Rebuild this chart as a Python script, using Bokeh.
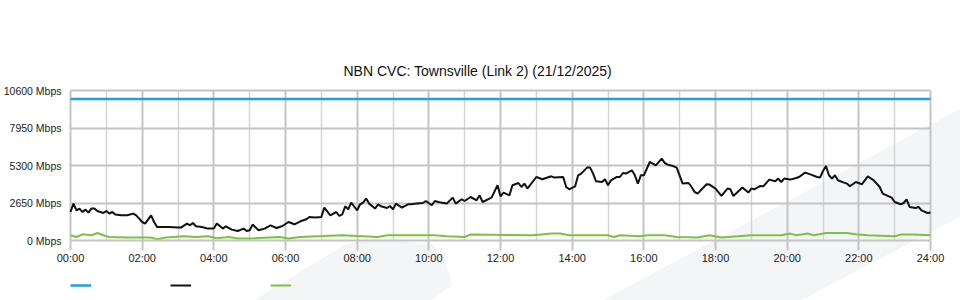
from bokeh.plotting import figure
from bokeh.models import (Range1d, FixedTicker, PrintfTickFormatter, Legend, LegendItem,
                          PolyAnnotation, Title)
from bokeh.embed import file_html
from bokeh.resources import INLINE

# ---------------- data (minutes since 00:00, Mbps) ----------------
title_text = "NBN CVC: Townsville (Link 2) (21/12/2025)"

capacity_t = [0, 1440]
capacity_v = [10000, 10000]

traffic_t = [0, 5, 10, 15, 20, 25, 30, 35, 40, 45, 55, 60, 65, 70, 75, 85, 95, 105, 110, 115,
             120, 125, 135, 140, 145, 155, 165, 180, 185, 195, 200, 205, 210, 220, 230, 240,
             245, 255, 260, 270, 280, 290, 295, 300, 305, 315, 325, 335, 345, 355, 365, 375,
             385, 395, 400, 410, 420, 425, 435, 445, 450, 455, 460, 465, 470, 480, 485, 490,
             495, 500, 510, 515, 520, 530, 535, 540, 545, 555, 565, 570, 580, 590, 595, 605,
             610, 620, 630, 640, 645, 655, 660, 670, 680, 685, 690, 705, 715, 720, 725, 735,
             740, 750, 755, 760, 765, 780, 790, 805, 810, 825, 830, 835, 845, 850, 855, 865,
             870, 875, 880, 890, 895, 900, 905, 915, 920, 925, 930, 940, 945, 950, 955, 960,
             970, 980, 990, 995, 1000, 1010, 1015, 1025, 1035, 1040, 1045, 1050, 1065, 1070,
             1080, 1090, 1100, 1105, 1110, 1125, 1135, 1140, 1145, 1155, 1160, 1170, 1180,
             1185, 1190, 1195, 1205, 1215, 1220, 1230, 1240, 1250, 1255, 1260, 1265, 1270,
             1275, 1280, 1285, 1295, 1300, 1305, 1315, 1325, 1335, 1345, 1355, 1360, 1375,
             1380, 1390, 1395, 1400, 1405, 1415, 1420, 1425, 1435, 1440]
traffic_v = [2014, 2607, 2134, 2254, 2014, 2183, 1972, 2254, 2254, 2085, 1943, 2085, 1901, 2014,
             1831, 1781, 1781, 1901, 1781, 1547, 1307, 1194, 1781, 1307, 954, 954, 954, 912,
             912, 1194, 1074, 1237, 1004, 954, 841, 841, 1194, 841, 1004, 770, 671, 841, 671,
             721, 1124, 721, 841, 1074, 883, 1025, 1307, 1145, 1357, 1498, 1661, 1618, 1661,
             2325, 1781, 2014, 1731, 1852, 2417, 2205, 2678, 2134, 2558, 2678, 2961, 2607,
             2254, 2558, 2417, 2297, 2438, 2205, 2607, 2325, 2558, 2558, 2607, 2650, 2791,
             2488, 2791, 2678, 2607, 3032, 2607, 2912, 2791, 3074, 2841, 3194, 2721, 3032,
             3901, 3124, 3385, 3194, 3901, 4063, 3781, 4021, 3668, 4488, 4325, 4537, 4445,
             4488, 3781, 3618, 3830, 4608, 4728, 5152, 5152, 4728, 4184, 4134, 4325, 3901,
             4254, 4488, 4488, 4770, 4728, 4961, 4608, 4021, 4608, 4608, 5548, 5314, 5788,
             5477, 5364, 5244, 5152, 4021, 4063, 3781, 3427, 3314, 3972, 3950, 3668, 3145,
             3668, 3618, 3145, 3738, 3385, 3668, 3618, 3852, 3830, 4304, 4184, 4374, 4134,
             4374, 4304, 4417, 4488, 4798, 4657, 4488, 4445, 4912, 5265, 4608, 4374, 4608,
             4254, 4092, 4021, 3830, 4134, 3972, 4537, 4254, 3781, 3314, 3032, 2721, 2558,
             2650, 2912, 2367, 2297, 2367, 2134, 1943, 1972]

upload_t = [0, 10, 20, 35, 45, 55, 65, 95, 135, 145, 160, 190, 210, 230, 245, 265, 280, 300,
            350, 365, 385, 455, 515, 530, 610, 630, 660, 670, 775, 805, 820, 835, 855, 900,
            910, 920, 955, 965, 995, 1015, 1050, 1070, 1090, 1140, 1190, 1205, 1215, 1235,
            1245, 1265, 1300, 1315, 1335, 1380, 1390, 1410, 1440]
upload_v = [367, 247, 438, 367, 530, 367, 247, 205, 205, 85, 205, 297, 247, 297, 163, 247, 134,
            134, 247, 134, 247, 367, 247, 367, 367, 297, 247, 417, 367, 488, 488, 367, 367, 367,
            247, 367, 297, 367, 367, 247, 205, 367, 205, 367, 367, 488, 367, 488, 367, 530, 530,
            438, 367, 297, 417, 417, 367]

y_ticks = [0, 2650, 5300, 7950, 10600]
x_major = [0, 120, 240, 360, 480, 600, 720, 840, 960, 1080, 1200, 1320, 1440]
x_minor = [60, 180, 300, 420, 540, 660, 780, 900, 1020, 1140, 1260, 1380]
x_labels = ["00:00", "02:00", "04:00", "06:00", "08:00", "10:00", "12:00",
            "14:00", "16:00", "18:00", "20:00", "22:00", "24:00"]

FONT = "Liberation Sans"

# plot area: 0..1440 min over 860 px (starting 70 px from the left), 0..10600 Mbps over
# 150 px; the frame is extended around it so the axes, legend strip and faint watermark
# all live inside one frame.
PX_X = 1440 / 860
PX_Y = 10600 / 150
X_START = -70 * PX_X
X_END = 1440 + 30 * PX_X
Y_START = -60 * PX_Y
Y_END = 10600 + 10 * PX_Y

p = figure(width=960, height=300, output_backend="svg", toolbar_location=None,
           x_range=Range1d(X_START, X_END), y_range=Range1d(Y_START, Y_END),
           min_border_left=0, min_border_right=0, min_border_top=80, min_border_bottom=0,
           title=None)
p.background_fill_color = None
p.border_fill_color = "white"
p.outline_line_color = None

t = Title(text=title_text, align="left", offset=343, text_font=FONT,
          text_font_size="14px", text_font_style="normal", text_color="#111111", standoff=4)
p.add_layout(t, "above")

# watermark (faint background shapes, canvas pixel coordinates)
wm_color = "#f4f5f7"
p.add_layout(PolyAnnotation(xs=[602, 960, 960, 800], ys=[300, 108, 216, 300],
                            xs_units="canvas", ys_units="canvas", fill_color=wm_color,
                            fill_alpha=1, line_color=None, level="image"))
p.add_layout(PolyAnnotation(xs=[253, 343, 357, 395, 433, 445, 452, 430],
                            ys=[300, 245, 241, 240, 244, 260, 285, 300],
                            xs_units="canvas", ys_units="canvas", fill_color=wm_color,
                            fill_alpha=1, line_color=None, level="image"))

# axes
p.xaxis.fixed_location = 0
p.xaxis.bounds = (0, 1440)
p.xaxis.ticker = FixedTicker(ticks=x_major, minor_ticks=x_minor)
p.xaxis.major_label_overrides = {t_: l for t_, l in zip(x_major, x_labels)}
p.xaxis.major_label_text_font = FONT
p.xaxis.major_label_text_font_size = "11px"
p.xaxis.major_label_text_color = "#222222"
p.xaxis.major_tick_out = 10
p.xaxis.major_tick_in = 0
p.xaxis.major_tick_line_color = "#c4c4c4"
p.xaxis.major_tick_line_width = 2
p.xaxis.minor_tick_line_color = None
p.xaxis.axis_line_color = "#c4c4c4"
p.xaxis.axis_line_width = 2
p.xaxis.major_label_standoff = 1

p.yaxis.fixed_location = 0
p.yaxis.bounds = (0, 10600)
p.yaxis.ticker = FixedTicker(ticks=y_ticks)
p.yaxis.formatter = PrintfTickFormatter(format="%d Mbps")
p.yaxis.major_label_text_font = FONT
p.yaxis.major_label_text_font_size = "10.5px"
p.yaxis.major_label_text_color = "#222222"
p.yaxis.major_tick_out = 0
p.yaxis.major_tick_in = 0
p.yaxis.minor_tick_line_color = None
p.yaxis.axis_line_color = None
p.yaxis.major_label_standoff = 9

p.xgrid.ticker = FixedTicker(ticks=x_major, minor_ticks=x_minor)
p.xgrid.cross_bounds = (0, 10600)
p.xgrid.grid_line_color = "#c4c4c4"
p.xgrid.grid_line_width = 2
p.xgrid.minor_grid_line_color = "#d4d4d4"
p.xgrid.minor_grid_line_width = 1.5
p.ygrid.ticker = FixedTicker(ticks=[2650, 5300, 7950, 10600])
p.ygrid.cross_bounds = (0, 1440)
p.ygrid.grid_line_color = "#c4c4c4"
p.ygrid.grid_line_width = 2

r_cap = p.line(capacity_t, capacity_v, line_color="#1e9fe0", line_width=2.5)
r_traffic = p.line(traffic_t, traffic_v, line_color="#111111", line_width=2)
r_up = p.line(upload_t, upload_v, line_color="#7cc242", line_width=2)

legend = Legend(items=[LegendItem(label=" ", renderers=[r_cap]),
                       LegendItem(label=" ", renderers=[r_traffic]),
                       LegendItem(label=" ", renderers=[r_up])],
                orientation="horizontal", location=(70, 0), glyph_width=21,
                glyph_height=30, label_width=0, label_height=30, label_standoff=0,
                label_text_font_size="1px", spacing=79, padding=0, margin=0,
                border_line_color=None, background_fill_alpha=0)
p.add_layout(legend, "center")

open("out.html", "w").write(file_html(p, INLINE))
